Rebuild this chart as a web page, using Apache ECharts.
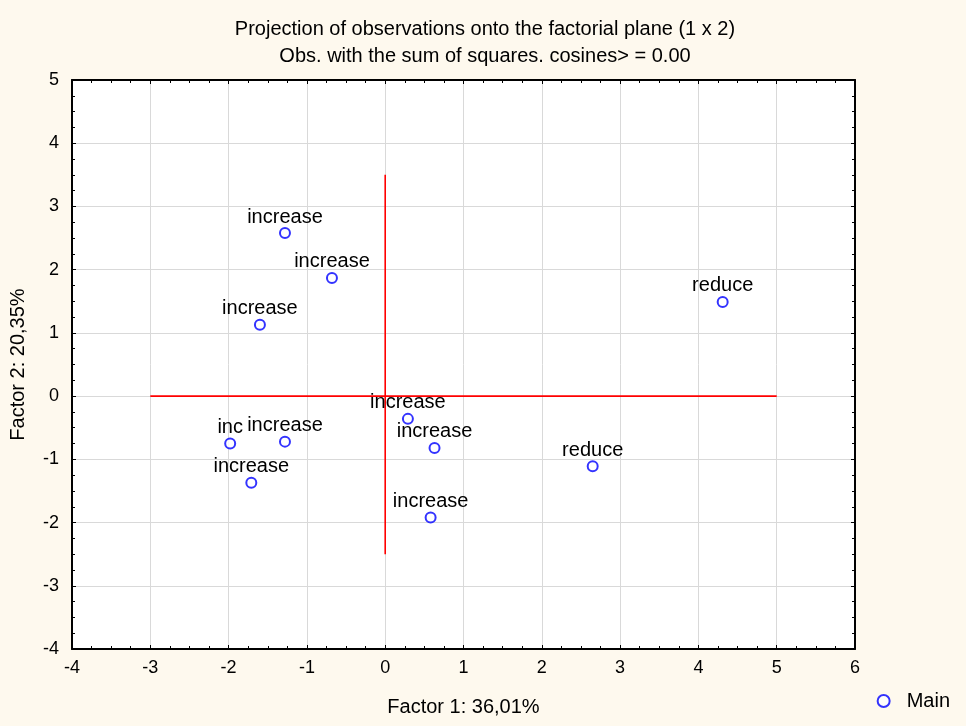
<!DOCTYPE html>
<html><head><meta charset="utf-8">
<script src="https://cdn.jsdelivr.net/npm/echarts@6/dist/echarts.min.js"></script>
<style>html,body{margin:0;padding:0;background:#FEF9EE;}#c{width:966px;height:726px;}</style>
</head><body><div id="c"></div>
<script>
const factor1 = [-1.28, -0.68, -1.60, 4.31, -1.98, -1.28, -1.71, 0.29, 0.63, 2.65, 0.58];
const factor2 = [2.58, 1.87, 1.13, 1.49, -0.75, -0.72, -1.37, -0.36, -0.82, -1.11, -1.92];
const pointLabels = ['increase','increase','increase','reduce','inc','increase','increase','increase','increase','reduce','increase'];
const hLine = [[-3, 0], [5, 0]];
const vLine = [[0, -2.5], [0, 3.5]];
const xTicks = [-4, -3, -2, -1, 0, 1, 2, 3, 4, 5, 6];
const yTicks = [-4, -3, -2, -1, 0, 1, 2, 3, 4, 5];

const font = 'Liberation Sans, Arial, sans-serif';
const chart = echarts.init(document.getElementById('c'));
const axCommon = {
  axisLine: {show: true, onZero: false, lineStyle: {color: '#000', width: 2}},
  axisTick: {show: true, inside: true, length: 4, lineStyle: {color: '#000', width: 1}},
  minorTick: {show: true, splitNumber: 4, length: 3, lineStyle: {color: '#000', width: 1}},
};
const labelStyle = {show: true, position: 'top', distance: 0, fontFamily: font, fontSize: 20,
  color: '#000000', opacity: 1, textBorderWidth: 0, fontWeight: 'normal'};
chart.setOption({
  backgroundColor: '#FEF9EE',
  animation: false,
  title: {
    text: 'Projection of observations onto the factorial plane (1 x 2)\nObs. with the sum of squares. cosines> = 0.00',
    left: 480, top: 11, textAlign: 'center',
    textStyle: {fontFamily: font, fontSize: 20, fontWeight: 'normal', color: '#000', lineHeight: 27}
  },
  grid: {left: 72, top: 80, right: 111, bottom: 77, show: true, backgroundColor: '#fff', borderWidth: 0},
  legend: {
    right: 11, bottom: 10, data: [{name: 'Main', icon: 'emptyCircle'}],
    itemWidth: 12, itemHeight: 12, itemGap: 10,
    textStyle: {fontFamily: font, fontSize: 20, color: '#000', padding: [0, 0, 0, 12]}
  },
  xAxis: [
    Object.assign({type: 'value', min: xTicks[0], max: xTicks[xTicks.length-1], interval: 1,
      name: 'Factor 1: 36,01%', nameLocation: 'middle', nameGap: 48,
      nameTextStyle: {fontFamily: font, fontSize: 20, color: '#000'},
      axisLabel: {fontFamily: font, fontSize: 18, color: '#000', margin: 10},
      splitLine: {show: true, lineStyle: {color: '#d9d9d9', width: 1}}}, axCommon),
    Object.assign({type: 'value', position: 'top', min: xTicks[0], max: xTicks[xTicks.length-1], interval: 1,
      axisLabel: {show: false}, splitLine: {show: false}}, axCommon)
  ],
  yAxis: [
    Object.assign({type: 'value', min: yTicks[0], max: yTicks[yTicks.length-1], interval: 1,
      name: 'Factor 2: 20,35%', nameLocation: 'middle', nameGap: 44,
      nameTextStyle: {fontFamily: font, fontSize: 20, color: '#000'},
      axisLabel: {fontFamily: font, fontSize: 18, color: '#000', margin: 13},
      splitLine: {show: true, lineStyle: {color: '#d9d9d9', width: 1}}}, axCommon),
    Object.assign({type: 'value', position: 'right', min: yTicks[0], max: yTicks[yTicks.length-1], interval: 1,
      axisLabel: {show: false}, splitLine: {show: false}}, axCommon)
  ],
  series: [
    {type: 'line', data: hLine, symbol: 'none', silent: true, lineStyle: {color: '#ff0000', width: 1.6}, z: 1},
    {type: 'line', data: vLine, symbol: 'none', silent: true, lineStyle: {color: '#ff0000', width: 1.6}, z: 1},
    {
      name: 'Main', type: 'scatter', symbol: 'emptyCircle', symbolSize: 10,
      itemStyle: {color: '#0000ff', borderColor: '#0000ff', borderWidth: 1.4},
      data: factor1.map((x, i) => ({value: [x, factor2[i]], label: Object.assign({}, labelStyle, {formatter: pointLabels[i]})})),
      label: labelStyle,
      labelLayout: {hideOverlap: false},
      z: 3
    }
  ]
});
</script></body></html>
